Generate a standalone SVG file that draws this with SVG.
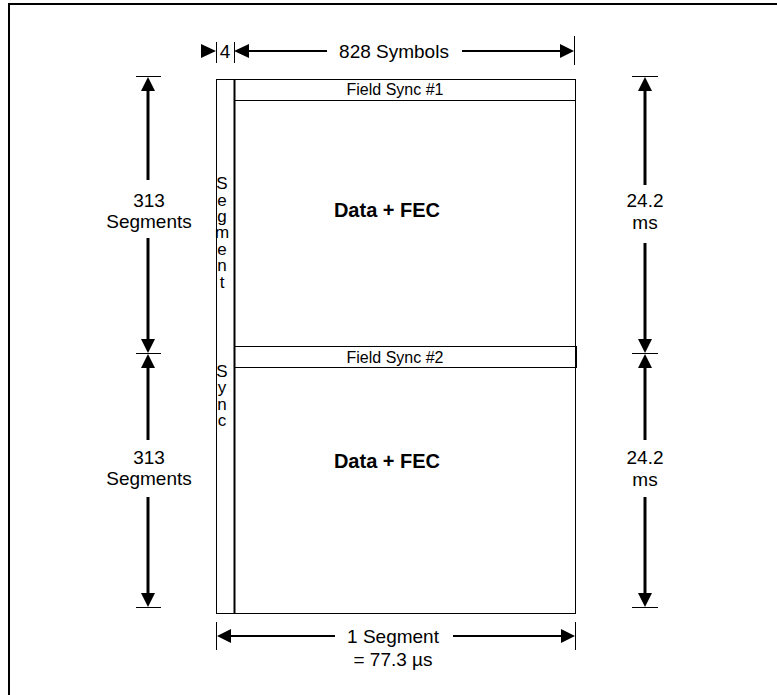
<svg xmlns="http://www.w3.org/2000/svg" width="777" height="695" viewBox="0 0 777 695">
<style>
text{font-family:"Liberation Sans",Arial,sans-serif;fill:#000}
.lbl{font-size:19px;text-anchor:middle}
.fs{font-size:16px;text-anchor:middle}
.big{font-size:20px;font-weight:bold;text-anchor:middle}
.ss{font-size:17px;text-anchor:middle}
.thin{stroke:#000;stroke-width:1;fill:none}
.dim{stroke:#000;stroke-width:3;fill:none}
.hdim{stroke:#000;stroke-width:2;fill:none}
.ah{fill:#000}
</style>
<rect width="777" height="695" fill="#fff"/>
<rect x="9" y="4" width="800" height="720" fill="none" stroke="#000" stroke-width="2"/>

<g id="frame">
<rect x="216.5" y="79.5" width="359" height="534" class="thin"/>
<line x1="234.5" y1="79" x2="234.5" y2="614" stroke="#000" stroke-width="2"/>
</g>
<g id="field-sync-1">
<line x1="234" y1="100.5" x2="576" y2="100.5" class="thin"/>
<text class="fs" x="395" y="95">Field Sync #1</text>
</g>
<g id="field-sync-2">
<rect x="234.5" y="346.5" width="342" height="21" class="thin"/>
<text class="fs" x="395" y="363">Field Sync #2</text>
</g>
<g id="data-1"><text class="big" x="387" y="217">Data + FEC</text></g>
<g id="data-2"><text class="big" x="387" y="468">Data + FEC</text></g>
<g id="segment-sync">
<text class="ss" x="222" y="189">S</text>
<text class="ss" x="222" y="206">e</text>
<text class="ss" x="222" y="222">g</text>
<text class="ss" x="222" y="238">m</text>
<text class="ss" x="222" y="255">e</text>
<text class="ss" x="222" y="271">n</text>
<text class="ss" x="222" y="288">t</text>
<text class="ss" x="222" y="377">S</text>
<text class="ss" x="222" y="393">y</text>
<text class="ss" x="222" y="410">n</text>
<text class="ss" x="222" y="426">c</text>
</g>

<g id="connectors">
<!-- top dimension -->
<line x1="216.5" y1="42" x2="216.5" y2="63" class="thin"/>
<line x1="234.5" y1="42" x2="234.5" y2="63" class="thin"/>
<line x1="574.5" y1="36" x2="574.5" y2="65" class="thin"/>
<polygon class="ah" points="201,44 216,51 201,58"/>
<polygon class="ah" points="249,44 234,51 249,58"/>
<line x1="248" y1="51" x2="327" y2="51" class="hdim"/>
<line x1="462" y1="51" x2="562" y2="51" class="hdim"/>
<polygon class="ah" points="560,44 574,51 560,58"/>

<!-- left dimensions -->
<line x1="136" y1="76.5" x2="161" y2="76.5" class="thin"/>
<line x1="136" y1="353.5" x2="161" y2="353.5" class="thin"/>
<line x1="136" y1="607.5" x2="161" y2="607.5" class="thin"/>
<polygon class="ah" points="148,77 141,91 155,91"/>
<line x1="148" y1="90" x2="148" y2="180" class="dim"/>
<line x1="148" y1="238" x2="148" y2="340" class="dim"/>
<polygon class="ah" points="148,353 141,339 155,339"/>
<polygon class="ah" points="148,354 141,368 155,368"/>
<line x1="148" y1="367" x2="148" y2="440" class="dim"/>
<line x1="148" y1="497" x2="148" y2="594" class="dim"/>
<polygon class="ah" points="148,607 141,593 155,593"/>

<!-- right dimensions -->
<line x1="632" y1="76.5" x2="658" y2="76.5" class="thin"/>
<line x1="632" y1="353.5" x2="658" y2="353.5" class="thin"/>
<line x1="632" y1="607.5" x2="658" y2="607.5" class="thin"/>
<polygon class="ah" points="645,77 638,91 652,91"/>
<line x1="645" y1="90" x2="645" y2="185" class="dim"/>
<line x1="645" y1="243" x2="645" y2="340" class="dim"/>
<polygon class="ah" points="645,353 638,339 652,339"/>
<polygon class="ah" points="645,354 638,368 652,368"/>
<line x1="645" y1="367" x2="645" y2="440" class="dim"/>
<line x1="645" y1="497" x2="645" y2="594" class="dim"/>
<polygon class="ah" points="645,607 638,593 652,593"/>

<!-- bottom dimension -->
<line x1="216.5" y1="622" x2="216.5" y2="650" class="thin"/>
<line x1="575.5" y1="622" x2="575.5" y2="650" class="thin"/>
<polygon class="ah" points="217,636 231,629 231,643"/>
<line x1="229" y1="636" x2="335" y2="636" class="hdim"/>
<line x1="453" y1="636" x2="563" y2="636" class="hdim"/>
<polygon class="ah" points="575,636 561,629 561,643"/>
</g>

<g id="labels">
<text class="lbl" x="225" y="58">4</text>
<text class="lbl" x="394" y="58">828 Symbols</text>
<text class="lbl" x="149" y="207">313</text>
<text class="lbl" x="149" y="228">Segments</text>
<text class="lbl" x="149" y="464">313</text>
<text class="lbl" x="149" y="485">Segments</text>
<text class="lbl" x="645" y="207">24.2</text>
<text class="lbl" x="645" y="229">ms</text>
<text class="lbl" x="645" y="464">24.2</text>
<text class="lbl" x="645" y="486">ms</text>
<text class="lbl" x="393" y="643">1 Segment</text>
<text class="lbl" x="393" y="666">= 77.3 µs</text>
</g>
</svg>
